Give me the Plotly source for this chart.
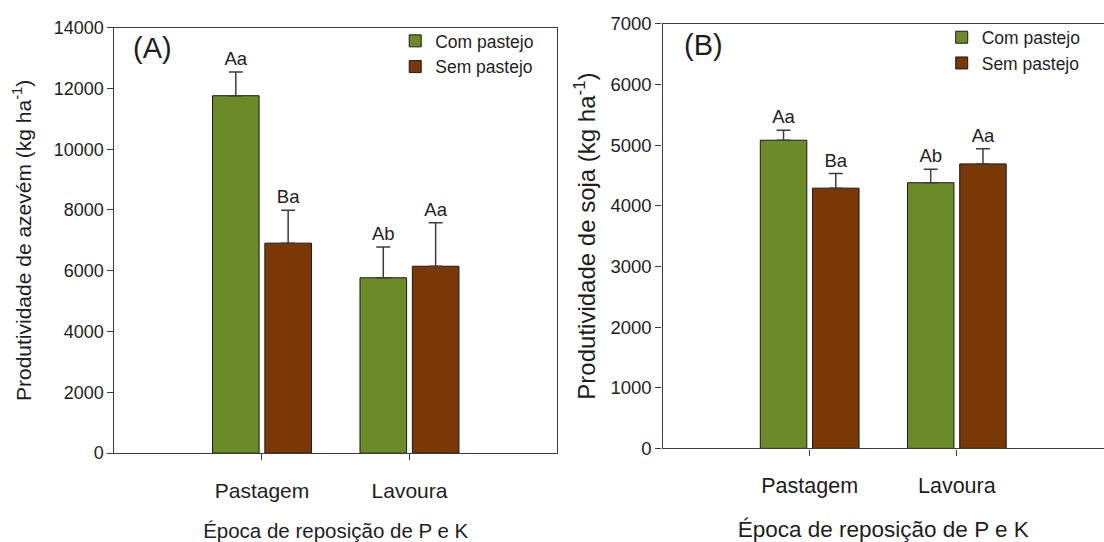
import plotly.graph_objects as go

# Categorias do eixo x e tratamentos
categorias = ["Pastagem", "Lavoura"]
tratamentos = ["Com pastejo", "Sem pastejo"]

# (A) Produtividade de azevém (kg ha-1): médias, erro padrão e letras de Tukey
azevem_com = [11760, 5770]
azevem_com_erro = [780, 1010]
azevem_com_letras = ["Aa", "Ab"]
azevem_sem = [6910, 6150]
azevem_sem_erro = [1080, 1430]
azevem_sem_letras = ["Ba", "Aa"]

# (B) Produtividade de soja (kg ha-1)
soja_com = [5080, 4380]
soja_com_erro = [165, 220]
soja_com_letras = ["Aa", "Ab"]
soja_sem = [4290, 4690]
soja_sem_erro = [240, 250]
soja_sem_letras = ["Ba", "Aa"]

ticks_azevem = [0, 2000, 4000, 6000, 8000, 10000, 12000, 14000]
ticks_soja = [0, 1000, 2000, 3000, 4000, 5000, 6000, 7000]

FONT = "Liberation Sans, Arial, sans-serif"
TXT = "#1e1e1e"
LINE = "#3c3c3c"
cores = {"Com pastejo": "#6B8A28", "Sem pastejo": "#7A3806"}

fig = go.Figure()


def painel(xa, ya, legenda, dados):
    for i, (nome, medias, erros, letras) in enumerate(dados):
        fig.add_trace(go.Bar(
            x=categorias, y=medias, name=nome,
            marker=dict(color=cores[nome], line=dict(color="#1a1a1a", width=1)),
            error_y=dict(type="data", array=erros, symmetric=False,
                         arrayminus=[0] * len(erros),
                         color=LINE, thickness=1.5, width=7),
            offsetgroup=str(i), xaxis=xa, yaxis=ya, legend=legenda,
        ))
        # letras de significância acima da barra de erro
        fig.add_trace(go.Scatter(
            x=categorias, y=[m + e for m, e in zip(medias, erros)],
            mode="markers+text", text=letras, textposition="top center",
            marker=dict(size=2, color="rgba(0,0,0,0)"),
            textfont=dict(size=18.5, color=TXT, family=FONT),
            offsetgroup=str(i), xaxis=xa, yaxis=ya,
            showlegend=False, hoverinfo="skip",
        ))


painel("x", "y", "legend", [
    ("Com pastejo", azevem_com, azevem_com_erro, azevem_com_letras),
    ("Sem pastejo", azevem_sem, azevem_sem_erro, azevem_sem_letras),
])
painel("x2", "y2", "legend2", [
    ("Com pastejo", soja_com, soja_com_erro, soja_com_letras),
    ("Sem pastejo", soja_sem, soja_sem_erro, soja_sem_letras),
])

eixo_x = dict(type="category", range=[-1, 2], showline=True, linecolor=LINE,
              linewidth=1.3, ticks="outside", ticklen=6, tickcolor=LINE,
              tickwidth=1.3, showgrid=False, zeroline=False,
              ticklabelstandoff=12,
              tickfont=dict(size=21, color=TXT, family=FONT))
eixo_y = dict(showline=True, linecolor=LINE, linewidth=1.3, ticks="outside",
              ticklen=6, tickcolor=LINE, tickwidth=1.3, showgrid=False,
              zeroline=False, tickformat="d",
              tickfont=dict(size=18, color=TXT, family=FONT))

fig.update_layout(
    width=1104, height=542,
    margin=dict(l=0, r=0, t=0, b=0),
    paper_bgcolor="white", plot_bgcolor="white",
    font=dict(family=FONT, color=TXT),
    barmode="group", bargap=0.29, bargroupgap=0.11,
    scattermode="group", scattergap=0.29,
    xaxis=dict(eixo_x, domain=[0.1037, 0.5045], anchor="y", mirror=True,
               title=dict(text="Época de reposição de P e K",
                          font=dict(size=20.5, color=TXT), standoff=23)),
    yaxis=dict(eixo_y, domain=[0.1513, 0.9681], anchor="x", mirror=True,
               range=[0, 14000], tickvals=ticks_azevem,
               title=dict(text="Produtividade de azevém (kg ha<sup>-1</sup>)",
                          font=dict(size=21, color=TXT), standoff=16)),
    xaxis2=dict(eixo_x, domain=[0.6001, 1.0], anchor="y2", mirror=True,
                tickfont=dict(size=21.5, color=TXT, family=FONT),
                title=dict(text="Época de reposição de P e K",
                           font=dict(size=22.5, color=TXT), standoff=23)),
    yaxis2=dict(eixo_y, domain=[0.1605, 0.9755], anchor="x2", mirror=False,
                range=[0, 7000], tickvals=ticks_soja,
                tickfont=dict(size=18.5, color=TXT, family=FONT),
                title=dict(text="Produtividade de soja (kg ha<sup>-1</sup>)",
                           font=dict(size=24, color=TXT), standoff=8)),
    legend=dict(x=0.358, y=0.977, xanchor="left", yanchor="top",
                bgcolor="rgba(0,0,0,0)", font=dict(size=17.5, color=TXT),
                tracegroupgap=0),
    legend2=dict(x=0.853, y=0.984, xanchor="left", yanchor="top",
                 bgcolor="rgba(0,0,0,0)", font=dict(size=17.5, color=TXT),
                 tracegroupgap=0),
    annotations=[
        dict(text="(A)", xref="x domain", yref="y domain", x=0.086, y=0.953,
             xanchor="center", yanchor="middle",
             showarrow=False, font=dict(size=29, color=TXT)),
        dict(text="(B)", xref="x2 domain", yref="y2 domain", x=0.092, y=0.951,
             xanchor="center", yanchor="middle",
             showarrow=False, font=dict(size=29, color=TXT)),
    ],
)

fig.write_html("out.html")
